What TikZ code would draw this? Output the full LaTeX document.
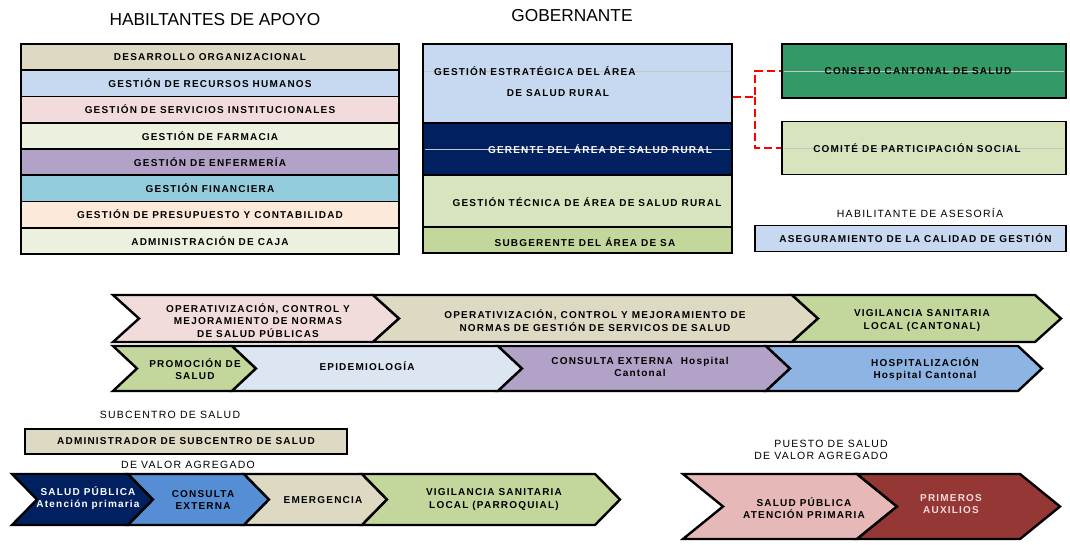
\documentclass[tikz,border=0pt]{standalone}
\usepackage{fontspec}
\setmainfont{Liberation Sans}
\newfontfamily\lsp[LetterSpace=12]{Liberation Sans}
\definecolor{cTan}{HTML}{DDD9C3}
\definecolor{cLBlue}{HTML}{C6D9F1}
\definecolor{cPink}{HTML}{F2DCDB}
\definecolor{cLGreen}{HTML}{EBF1DE}
\definecolor{cPurple}{HTML}{B3A2C7}
\definecolor{cTeal}{HTML}{93CDDD}
\definecolor{cPeach}{HTML}{FDE9D9}
\definecolor{cNavy}{HTML}{002060}
\definecolor{cGreen2}{HTML}{D7E4BD}
\definecolor{cGreen3}{HTML}{C3D69B}
\definecolor{cDGreen}{HTML}{339966}
\definecolor{cEpi}{HTML}{DCE6F2}
\definecolor{cBlue}{HTML}{8EB4E3}
\definecolor{cMBlue}{HTML}{558ED5}
\definecolor{cRose}{HTML}{E6B9B8}
\definecolor{cRed}{HTML}{953735}
\newcommand\chevshape[6]{%
  \filldraw[chev, fill=#6] (#1,#3) -- (#2,#3) -- ({#2+#5},{(#3+#4)/2}) -- (#2,#4) -- (#1,#4) -- ({#1+#5},{(#3+#4)/2}) -- cycle;}
\tikzset{
  lbl/.style={font=\lsp\bfseries\fontsize{10}{12.5}\selectfont, inner sep=0pt, align=center},
  plain/.style={font=\lsp\fontsize{10.5}{11}\selectfont, inner sep=0pt, align=center},
  ttl/.style={font=\fontsize{17.3}{19}\selectfont, inner sep=0pt},
  cell/.style={draw=black, line width=1.6pt, inner sep=0pt},
  chev/.style={draw=black, line width=2.4pt, line join=miter},
  ghost/.style={draw=gray!45, line width=0.6pt},
  reddash/.style={draw=red, line width=1.6pt, dash pattern=on 8pt off 4pt},
}
\begin{document}
\begin{tikzpicture}[x=1pt,y=-1pt]
\useasboundingbox (0,0) rectangle (1070,545);
% titles
\node[ttl] (tapoyo) at (215,20) {HABILTANTES DE APOYO};
\node[ttl] (tgob) at (572,16) {GOBERNANTE};
% left table
\begin{scope}[every node/.style={cell, lbl, minimum width=378pt, minimum height=26.25pt}]
\node[fill=cTan]    (r1) at (210,57.1)  {DESARROLLO ORGANIZACIONAL};
\node[fill=cLBlue]  (r2) at (210,83.4)  {GESTIÓN DE RECURSOS HUMANOS};
\node[fill=cPink]   (r3) at (210,109.6) {GESTIÓN DE SERVICIOS INSTITUCIONALES};
\node[fill=cLGreen] (r4) at (210,135.9) {GESTIÓN DE FARMACIA};
\node[fill=cPurple] (r5) at (210,162.1) {GESTIÓN DE ENFERMERÍA};
\node[fill=cTeal]   (r6) at (210,188.4) {GESTIÓN FINANCIERA};
\node[fill=cPeach]  (r7) at (210,214.6) {GESTIÓN DE PRESUPUESTO Y CONTABILIDAD};
\node[fill=cLGreen] (r8) at (210,240.9) {ADMINISTRACIÓN DE CAJA};
\end{scope}
% gobernante
\node[cell, fill=cLBlue, minimum width=309pt, minimum height=79pt] (gobA) at (577.5,83.5) {};
\node[cell, fill=cNavy, minimum width=309pt, minimum height=52pt] (gobB) at (577.5,149) {};
\node[cell, fill=cGreen2, minimum width=309pt, minimum height=52pt] (gobC) at (577.5,201) {};
\node[cell, fill=cGreen3, minimum width=309pt, minimum height=26pt] (gobD) at (577.5,240) {};
\draw[ghost] (425,71) -- (730,71);
\draw[ghost] (425,149) -- (730,149);
\node[lbl, anchor=west] (g1) at (434,71) {GESTIÓN ESTRATÉGICA DEL ÁREA};
\node[lbl] (g2) at (558,93) {DE SALUD RURAL};
\node[lbl, text=white] (g3) at (600,149) {GERENTE DEL ÁREA DE SALUD RURAL};
\node[lbl] (g4) at (587,202) {GESTIÓN TÉCNICA DE ÁREA DE SALUD RURAL};
\node[lbl] (g5) at (585,242) {SUBGERENTE DEL ÁREA DE SA};
% right boxes
\node[cell, fill=cDGreen, minimum width=284pt, minimum height=54pt] (consejo) at (924,71) {};
\node[cell, fill=cGreen2, minimum width=284pt, minimum height=53pt] (comite) at (924,148) {};
\draw[ghost] (784,71) -- (1064,71);
\draw[ghost] (784,148) -- (1064,148);
\node[lbl] (tconsejo) at (918,71) {CONSEJO CANTONAL DE SALUD};
\node[lbl] (tcomite) at (917,148) {COMITÉ DE PARTICIPACIÓN SOCIAL};
\coordinate (jn) at (755,97);
\draw[reddash] (gobA.east |- jn) -- (jn) |- (consejo.west);
\draw[reddash] (jn) |- (comite.west);
\node[plain] (tases) at (920,213) {HABILITANTE DE ASESORÍA};
\node[cell, lbl, fill=cLBlue, minimum width=311pt, minimum height=26pt] (asegur) at (910.5,238.5) {\hspace*{10pt}ASEGURAMIENTO DE LA CALIDAD DE GESTIÓN};
% row 1
\chevshape{113}{373}{295}{342}{26}{cPink}
\chevshape{373}{792}{295}{342}{26}{cTan}
\chevshape{792}{1035}{295}{342}{26}{cGreen3}
\node[lbl] (a1) at (258,320.5) {OPERATIVIZACIÓN, CONTROL Y\\MEJORAMIENTO DE NORMAS\\DE SALUD PÚBLICAS};
\node[lbl] (a2) at (595,320.5) {OPERATIVIZACIÓN, CONTROL Y MEJORAMIENTO DE\\NORMAS DE GESTIÓN DE SERVICOS DE SALUD};
\node[lbl] (a3) at (922,320.5) {VIGILANCIA SANITARIA\\LOCAL (CANTONAL)};
% row 2
\chevshape{113}{232}{346}{391}{24}{cGreen3}
\chevshape{232}{498}{346}{391}{24}{cEpi}
\chevshape{498}{766}{346}{391}{24}{cPurple}
\chevshape{766}{1018}{346}{391}{24}{cBlue}
\node[lbl] (b1) at (195,369) {PROMOCIÓN DE\\SALUD};
\node[lbl] (b2) at (367,366) {EPIDEMIOLOGÍA};
\node[lbl] (b3) at (640,367) {CONSULTA EXTERNA\ \ Hospital\\Cantonal};
\node[lbl] (b4) at (925,369) {HOSPITALIZACIÓN\\Hospital Cantonal};
% subcentro
\node[plain] (tsub) at (170,415) {SUBCENTRO DE SALUD};
\node[cell, lbl, fill=cTan, minimum width=322pt, minimum height=25pt] (admin) at (186,441.5) {ADMINISTRADOR DE SUBCENTRO DE SALUD};
\node[plain] (tval1) at (188,465) {DE VALOR AGREGADO};
\chevshape{12}{128}{474}{525}{25}{cNavy}
\chevshape{128}{244}{474}{525}{25}{cMBlue}
\chevshape{244}{362}{474}{525}{25}{cTan}
\chevshape{362}{595}{474}{525}{25}{cGreen3}
\node[lbl, text=white] (c1) at (88,498) {SALUD PÚBLICA\\Atención primaria};
\node[lbl] (c2) at (203,500) {CONSULTA\\EXTERNA};
\node[lbl] (c3) at (323,500) {EMERGENCIA};
\node[lbl] (c4) at (494,499.5) {VIGILANCIA SANITARIA\\LOCAL (PARROQUIAL)};
% puesto
\node[plain, anchor=east] (tpue1) at (888,444) {PUESTO DE SALUD};
\node[plain, anchor=east] (tpue2) at (888,456) {DE VALOR AGREGADO};
\chevshape{683}{857}{474}{539}{40}{cRose}
\chevshape{857}{1020}{474}{539}{40}{cRed}
\node[lbl] (d1) at (804,508) {SALUD PÚBLICA\\ATENCIÓN PRIMARIA};
\node[lbl, text=cPink] (d2) at (951,504) {PRIMEROS\\AUXILIOS};
\end{tikzpicture}
\end{document}
